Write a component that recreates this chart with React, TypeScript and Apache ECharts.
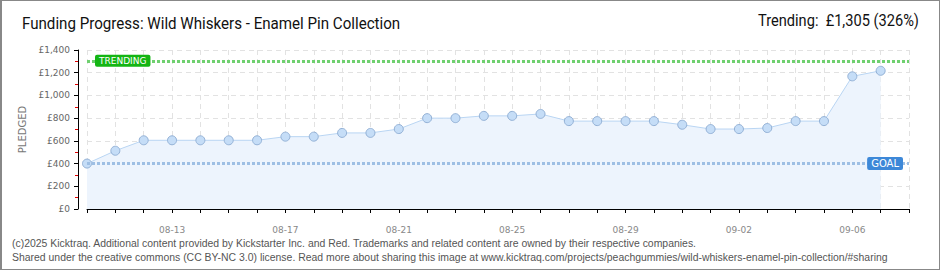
import React, { useEffect, useRef } from "react";
import * as echarts from "echarts";

const dates = [
  "08-10","08-11","08-12","08-13","08-14","08-15","08-16","08-17","08-18","08-19",
  "08-20","08-21","08-22","08-23","08-24","08-25","08-26","08-27","08-28","08-29",
  "08-30","08-31","09-01","09-02","09-03","09-04","09-05","09-06","09-07","09-08",
];
const pledged = [
  400, 513, 605, 605, 605, 605, 605, 637, 637, 670,
  670, 704, 800, 800, 820, 820, 837, 774, 774, 774,
  774, 742, 704, 704, 713, 774, 774, 1168, 1217,
];
const goal = 400;
const trending = 1305;
const titleText = "Funding Progress: Wild Whiskers - Enamel Pin Collection";
const trendText = "Trending:  £1,305 (326%)";
const footer1 = "(c)2025 Kicktraq. Additional content provided by Kickstarter Inc. and Red. Trademarks and related content are owned by their respective companies.";
const footer2 = "Shared under the creative commons (CC BY-NC 3.0) license. Read more about sharing this image at www.kicktraq.com/projects/peachgummies/wild-whiskers-enamel-pin-collection/#sharing";

export default function App() {
  const ref = useRef<HTMLDivElement>(null);
  useEffect(() => {
    if (!ref.current) return;
    const chart = echarts.init(ref.current, null, { renderer: "svg" });
    const pix = "DejaVu Sans";
    chart.setOption({
      animation: false,
      backgroundColor: "#ffffff",
      grid: { left: 85, right: 30, top: 49, bottom: 60 },
      graphic: [
        {
          type: "text", left: 20, top: 14, scaleX: 0.89,
          style: { text: titleText, font: "17px Roboto", fill: "#111" },
        },
        {
          type: "text", left: 756, top: 11, scaleX: 0.86,
          style: { text: trendText, font: "17px Roboto", fill: "#111" },
        },
        {
          type: "text", left: 10, top: 237,
          style: { text: footer1, font: "10.45px 'Liberation Sans'", fill: "#555" },
        },
        {
          type: "text", left: 10, top: 251,
          style: { text: footer2, font: "10.45px 'Liberation Sans'", fill: "#555" },
        },
      ],
      xAxis: {
        type: "category",
        data: dates,
        boundaryGap: false,
        offset: 10,
        axisLine: { lineStyle: { color: "#000", width: 1 } },
        axisTick: { show: true, interval: 0, length: 4, lineStyle: { color: "#000" } },
        axisLabel: {
          interval: (i: number) => i % 4 === 3,
          color: "#888",
          fontFamily: pix,
          fontSize: 9,
          margin: 6,
        },
        splitLine: {
          show: true,
          interval: 0,
          lineStyle: { color: "#e2e2e2", type: [5, 4] },
        },
      },
      yAxis: {
        type: "value",
        min: 0,
        max: 1400,
        interval: 200,
        offset: 9,
        name: "PLEDGED",
        nameLocation: "middle",
        nameRotate: 90,
        nameGap: 46,
        nameTextStyle: { color: "#777", fontFamily: pix, fontSize: 10 },
        axisLine: { show: true, lineStyle: { color: "#000" } },
        axisTick: { show: true, length: 4, lineStyle: { color: "#000" } },
        minorTick: { show: true, splitNumber: 2, length: 3, lineStyle: { color: "#e00000" } },
        axisLabel: {
          color: "#666",
          fontFamily: pix,
          fontSize: 9,
          margin: 8,
          formatter: (v: number) => "£" + v.toLocaleString("en-US"),
        },
        splitLine: { show: true, lineStyle: { color: "#e2e2e2", type: [5, 4] } },
      },
      series: [
        {
          type: "line",
          data: pledged,
          symbol: "circle",
          symbolSize: 9,
          lineStyle: { color: "#b9d5f3", width: 1 },
          itemStyle: { color: "#c5ddf7", borderColor: "#93b1d6", borderWidth: 1 },
          areaStyle: { color: "#edf4fd", opacity: 1 },
          markLine: {
            silent: true,
            symbol: "none",
            data: [
              {
                yAxis: trending,
                lineStyle: { color: "#6fd06f", type: [3, 2], width: 3 },
                label: {
                  show: true,
                  formatter: "TRENDING",
                  position: "insideStartTop",
                  verticalAlign: "middle",
                  distance: [8, 0],
                  color: "#fff",
                  backgroundColor: "#14b514",
                  borderRadius: 2,
                  padding: [2, 4, 1, 4],
                  fontFamily: pix,
                  fontSize: 9,
                },
              },
              {
                yAxis: goal,
                lineStyle: { color: "#9ebfe4", type: [3, 2], width: 3 },
                label: {
                  show: true,
                  formatter: "GOAL",
                  position: "insideEndTop",
                  verticalAlign: "middle",
                  distance: [6, 0],
                  color: "#fff",
                  backgroundColor: "#3d88d8",
                  borderRadius: 2,
                  padding: [2, 4, 1, 4],
                  fontFamily: pix,
                  fontSize: 10,
                },
              },
            ],
          },
        },
      ],
    });
    return () => chart.dispose();
  }, []);
  return (
    <div
      style={{
        position: "fixed", left: 0, top: 0, width: 940, height: 270,
        boxSizing: "border-box", border: "1px solid #888", borderLeftWidth: 2,
        background: "#fff",
      }}
    >
      <div ref={ref} style={{ width: 937, height: 268 }} />
    </div>
  );
}
